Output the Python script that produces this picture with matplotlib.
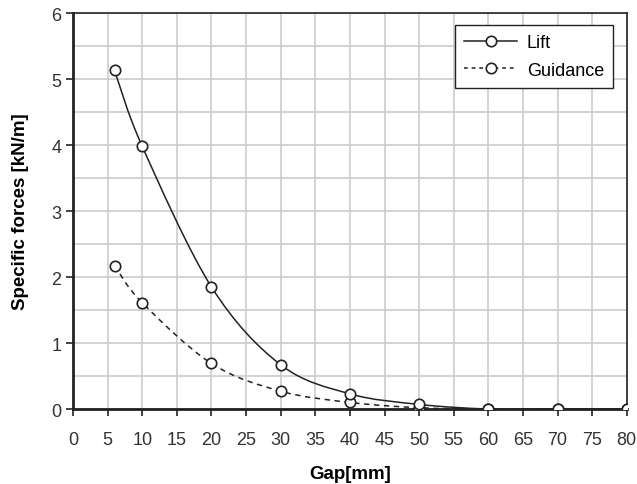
# specific forces vs gap, lift and guidance
import numpy as np
import matplotlib
matplotlib.use('agg')
import matplotlib.pyplot as plt
from matplotlib.path import Path
from matplotlib.patches import PathPatch
from matplotlib.lines import Line2D

plt.rcParams['font.family'] = ['Liberation Sans', 'DejaVu Sans']

gap      = [6, 10, 20, 30, 40, 50, 60, 70, 80]
lift     = [5.13, 3.98, 1.85, 0.67, 0.23, 0.07, 0.0, 0.0, 0.0]
guidance = [2.17, 1.61, 0.69, 0.27, 0.10, 0.02, 0.0, 0.0, 0.0]


def smooth_path(xs, ys):
	# catmull-rom style bezier through the points (like excel smoothed lines)
	x = np.asarray(xs, float)
	y = np.asarray(ys, float)
	verts = [(x[0], y[0])]
	codes = [Path.MOVETO]
	n = len(x)
	for i in range(n - 1):
		x0, y0 = (x[i - 1], y[i - 1]) if i > 0 else (x[i], y[i])
		x3, y3 = (x[i + 2], y[i + 2]) if i + 2 < n else (x[i + 1], y[i + 1])
		c1 = (x[i] + (x[i + 1] - x0) / 6.0, y[i] + (y[i + 1] - y0) / 6.0)
		c2 = (x[i + 1] - (x3 - x[i]) / 6.0, y[i + 1] - (y3 - y[i]) / 6.0)
		verts += [c1, c2, (x[i + 1], y[i + 1])]
		codes += [Path.CURVE4] * 3
	return Path(verts, codes)


fig = plt.figure(figsize=(6.37, 4.85), dpi=100)
ax = fig.add_axes([0.1146, 0.1546, 0.8694, 0.8165])

ax.add_patch(PathPatch(smooth_path(gap, guidance), fill=False, color='#222222',
	lw=1.1, ls=(0, (3.5, 3)), zorder=3))
ax.add_patch(PathPatch(smooth_path(gap, lift), fill=False, color='#222222',
	lw=1.1, zorder=3))

mk = dict(marker='o', ms=7.5, mfc='white', mec='#222222', mew=1.2)
ax.plot(gap, guidance, ls='None', zorder=4, **mk)
ax.plot(gap, lift, ls='None', zorder=5, **mk)

h_lift = Line2D([], [], color='#222222', lw=1.1, **mk)
h_guid = Line2D([], [], color='#222222', lw=1.1, ls=(0, (2.5, 2.5)), **mk)
leg = ax.legend([h_lift, h_guid], ['Lift', 'Guidance'], loc='upper right',
	bbox_to_anchor=(0.975, 0.97), fontsize=13, fancybox=False, framealpha=1,
	edgecolor='#222222', handlelength=2.9, handletextpad=0.55, borderpad=0.5,
	labelspacing=0.6, borderaxespad=0)
leg.get_frame().set_linewidth(1.0)

ax.set_xlim(0, 80)
ax.set_ylim(0, 6)
ax.set_xticks(np.arange(0, 81, 5))
ax.set_yticks(np.arange(0, 7, 1))
ax.set_yticks(np.arange(0, 6.01, 0.5), minor=True)
ax.grid(True, which='both', color='#cccccc', lw=1.2)
ax.set_axisbelow(True)
ax.tick_params(axis='both', labelsize=13, direction='out', length=5, width=1.2,
	colors='#222222', labelcolor='#333333')
ax.tick_params(axis='x', pad=11)
ax.tick_params(axis='y', which='minor', length=0)
for s in ax.spines.values():
	s.set_color('#222222')
	s.set_linewidth(1.2)
ax.spines['left'].set_linewidth(2)
ax.spines['bottom'].set_linewidth(2)

ax.set_xlabel('Gap[mm]', fontsize=13.5, fontweight='bold', labelpad=12)
ax.set_ylabel('Specific forces [kN/m]', fontsize=13.5, fontweight='bold', labelpad=16)

fig.savefig('out.png', dpi=100)
